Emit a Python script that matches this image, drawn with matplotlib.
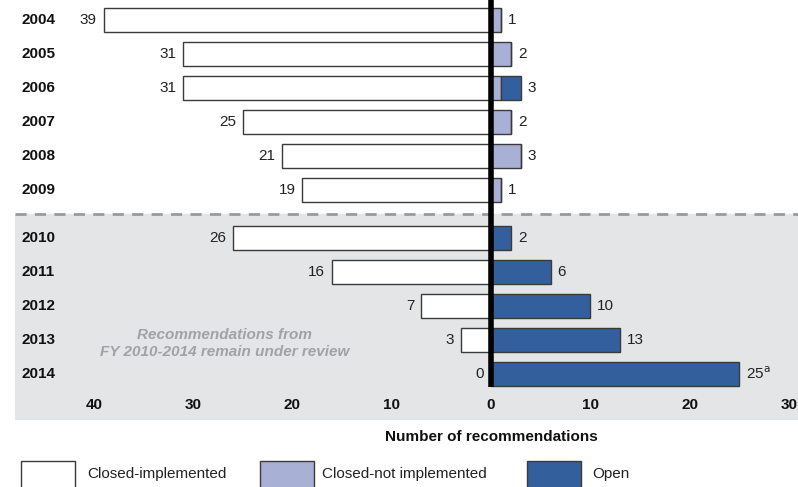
import matplotlib.pyplot as plt
from matplotlib.patches import Rectangle

plt.rcParams['font.family'] = ['Liberation Sans', 'DejaVu Sans']

years = ["2004", "2005", "2006", "2007", "2008", "2009", "2010", "2011", "2012", "2013", "2014"]
closed_impl = [39, 31, 31, 25, 21, 19, 26, 16, 7, 3, 0]
closed_not_impl = [1, 2, 1, 2, 3, 1, 0, 0, 0, 0, 0]
open_recs = [0, 0, 2, 0, 0, 0, 2, 6, 10, 13, 25]
right_labels = ["1", "2", "3", "2", "3", "1", "2", "6", "10", "13", "25$^{\\mathrm{a}}$"]
xticks = [-40, -30, -20, -10, 0, 10, 20, 30]

c_white = "white"
c_lav = "#a9b0d6"
c_open = "#33609d"
c_edge = "#3a3a3a"
c_gray_bg = "#e4e5e7"

W, H = 798, 487
fig = plt.figure(figsize=(W / 100, H / 100), dpi=100)
ax = fig.add_axes([15 / W, (H - 420) / H, (W - 15) / W, 420 / H])

px_per_unit = 9.93
zero_px = 491 - 15
ax.set_xlim(-zero_px / px_per_unit, (W - 15 - zero_px) / px_per_unit)

# rows: 34 px apart, extra gap after 2009
row_px = 34
gap = 14 / row_px
ypos = [i + (gap if i >= 6 else 0) for i in range(len(years))]
top = -20 / row_px
bottom = ypos[-1] + 46 / row_px
ax.set_ylim(bottom, top)
ax.axis("off")

split = ypos[5] + 24 / row_px
ax.axhspan(split, bottom, color=c_gray_bg, zorder=0)
ax.axhline(split, color="#9a9a9a", lw=2, ls=(0, (4, 3)), zorder=1)

bh = 0.73
ax.barh(ypos, [-v for v in closed_impl], height=bh, color=c_white,
        edgecolor=c_edge, linewidth=1, zorder=2)
ax.barh(ypos, closed_not_impl, height=bh, color=c_lav,
        edgecolor=c_edge, linewidth=1, zorder=2)
ax.barh(ypos, open_recs, left=closed_not_impl, height=bh, color=c_open,
        edgecolor=c_edge, linewidth=1, zorder=2)

ax.plot([0, 0], [top, ypos[-1] + bh / 2 + 0.03], color="black", lw=4,
        solid_capstyle="butt", zorder=4)

off = 0.7
for y, yr, ci, cn, op, rl in zip(ypos, years, closed_impl, closed_not_impl,
                                  open_recs, right_labels):
    ax.text(-47.3, y, yr, ha="left", va="center", fontsize=11,
            fontweight="bold", color="#111111")
    ax.text(-ci - off, y, str(ci), ha="right", va="center", fontsize=11,
            color="#222222")
    ax.text(cn + op + off, y, rl, ha="left", va="center", fontsize=11,
            color="#222222")

tick_y = ypos[-1] + 31 / row_px
for t in xticks:
    ax.text(t, tick_y, str(abs(t)), ha="center", va="center", fontsize=11,
            fontweight="bold", color="#111111")

ax.text(-26.8, 9.52, "Recommendations from\nFY 2010-2014 remain under review",
        ha="center", va="center", fontsize=11, fontweight="bold",
        fontstyle="italic", color="#a0a2a5", linespacing=1.3)

fig.text(491 / W, 1 - 437 / H, "Number of recommendations", ha="center",
         va="center", fontsize=11, fontweight="bold", color="#111111")

legend_items = [("Closed-implemented", c_white, 21, 87),
                ("Closed-not implemented", c_lav, 260, 322),
                ("Open", c_open, 527, 592)]
for label, col, x0, tx in legend_items:
    fig.patches.append(Rectangle((x0 / W, 0 - 2 / H), 54 / W, 28 / H,
                                 transform=fig.transFigure, facecolor=col,
                                 edgecolor=c_edge, linewidth=1))
    fig.text(tx / W, 1 - 474 / H, label,
             ha="left", va="center", fontsize=11, color="#222222")

fig.savefig("out.png", dpi=100)
